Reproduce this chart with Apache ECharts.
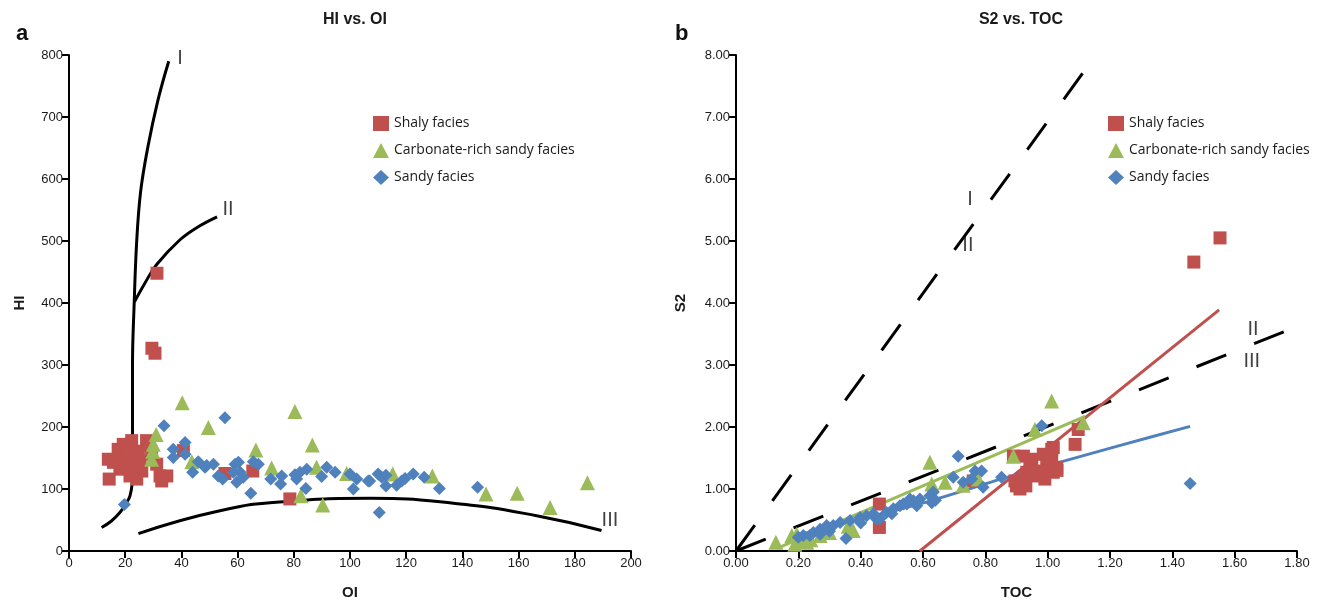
<!DOCTYPE html>
<html>
<head>
<meta charset="utf-8">
<script src="https://cdn.jsdelivr.net/npm/echarts@6/dist/echarts.min.js"></script>
<style>
  html, body { margin: 0; padding: 0; background: #fff; }
  #main { width: 1321px; height: 605px; }
</style>
</head>
<body>
<div id="main"></div>
<script>
// a: HI vs OI  [OI, HI]
var hiShaly = [[14.3,116],[16.4,145],[17.5,164],[19.3,172],[22.3,178],[27.6,178],[15.8,143],[18.7,153],[21.1,145],[24.7,161],
  [25.3,145],[22.3,135],[21.7,121],[25.9,129],[24.1,116],[29.4,156],[31.2,140],[32.4,121],[34.8,121],[33,113],[14,148],
  [19.9,148],[20.5,161],[18.1,132],[40.7,162],[55.5,125],[65.4,129],[78.6,84],[31.3,448],[29.5,327],[30.6,319],[28.5,170],[22,125]];
var hiCarb = [[40.3,239],[31,188],[30,172],[29.8,161],[29.4,148],[49.6,199],[80.4,225],[86.6,171],[66.5,163],[43.7,144],
  [72.1,134],[88.1,135],[98.8,125],[82.5,89],[90.3,74],[115.2,124],[129.3,121],[148.4,92],[159.5,93],[184.5,110],[171.2,70]];
var hiSandy = [[19.7,75],[33.8,202],[55.5,215],[37.1,164],[41.3,175],[37.1,151],[41.3,156],[46,144],[49,138],[51.4,140],
  [44,127],[48.4,135],[53.1,121],[54.7,116],[59.1,140],[60.3,143],[58.5,127],[60.9,127],[59.7,111],[62,119],[65.6,144],
  [67.4,140],[64.7,93],[71.8,116],[75.7,121],[75.3,108],[80.4,123],[82.2,127],[84.6,132],[84.3,101],[81,116],[91.7,135],
  [94.7,127],[89.9,120],[100,124],[102.4,116],[101.2,100],[106.5,113],[110,124],[107,113],[111.3,119],[112.8,122],
  [112.8,105],[116.6,106],[118.4,113],[119.6,117],[122.5,124],[126.4,119],[131.8,101],[145.4,103],[110.4,62]];
// kerogen type boundaries
var curveI = [[11.6,38],[15,48],[18.1,62],[20.5,78],[21.7,89],[22.5,110],[22.7,140],[22.6,200],[22.6,300],[23.2,400],
  [24.1,500],[25.5,580],[28,650],[31.7,728],[35.5,790]];
var curveII = [[23.3,402],[27,432],[31.2,462],[39.5,502],[46,523],[52.7,539]];
var curveIII = [[24.7,28],[53.7,65],[77.5,80],[107,85],[136.8,77],[166.4,57],[189.5,33]];
var hiTypeLabels = [[39.5,794,'I'],[56.6,551,'II'],[192.5,50,'III']];

// b: S2 vs TOC  [TOC, S2]
var s2Shaly = [[1.553,5.05],[1.469,4.66],[0.460,0.757],[0.460,0.38],[1.098,1.96],[1.088,1.72],[1.018,1.67],[1.013,1.48],
  [0.997,1.40],[1.029,1.35],[0.981,1.29],[1.018,1.27],[0.991,1.16],[0.949,1.48],[0.943,1.37],[0.933,1.27],[0.954,1.21],
  [0.917,1.16],[0.890,1.53],[0.922,1.53],[0.900,1.05],[0.895,1.13],[0.911,1.00],[0.761,1.13],[0.986,1.56],[1.013,1.64],
  [1.03,1.30],[0.93,1.05]];
var s2Carb = [[0.128,0.14],[0.179,0.25],[0.195,0.27],[0.211,0.17],[0.189,0.11],[0.227,0.14],[0.376,0.33],[0.622,1.43],
  [1.013,2.42],[1.114,2.07],[0.959,1.96],[0.890,1.53],[0.628,1.08],[0.671,1.11],[0.729,1.06],[0.777,1.16],[0.20,0.20],
  [0.215,0.22],[0.24,0.18],[0.30,0.30],[0.36,0.40],[0.27,0.25]];
var s2Sandy = [[0.216,0.25],[0.248,0.30],[0.270,0.35],[0.291,0.41],[0.312,0.41],[0.334,0.46],[0.366,0.49],[0.398,0.54],
  [0.419,0.57],[0.441,0.60],[0.483,0.62],[0.505,0.68],[0.526,0.73],[0.548,0.76],[0.569,0.81],[0.580,0.73],[0.462,0.52],
  [0.27,0.27],[0.237,0.25],[0.537,0.76],[0.558,0.84],[0.590,0.84],[0.622,0.89],[0.628,0.78],[0.633,0.95],[0.697,1.19],
  [0.729,1.11],[0.767,1.29],[0.788,1.29],[0.793,1.03],[0.756,1.16],[0.852,1.19],[1.457,1.09],[0.713,1.53],[0.981,2.02],
  [0.353,0.20],[0.20,0.22],[0.40,0.45],[0.45,0.52],[0.50,0.60],[0.64,0.82],[0.30,0.32]];
var trendShaly = [[0.59,0],[1.55,3.89]];
var trendCarb = [[0.13,0.04],[1.12,2.17]];
var trendSandy = [[0.20,0.26],[0.59,0.76],[0.85,1.16],[1.23,1.70],[1.457,2.01]];
var lineI_II = [[0,0],[1.139,7.89]];
var lineII_III = [[0,0],[1.8,3.62]];
var s2TypeLabels = [[0.751,5.67,'I'],[0.744,4.93,'II'],[1.659,3.57,'II'],[1.655,3.06,'III']];

var RED = '#c0504d', GREEN = '#9bbb59', BLUE = '#4f81bd';
var FONT = 'Liberation Sans';
var names = ['Shaly facies', 'Carbonate-rich sandy facies', 'Sandy facies'];

function axisBase(extra) {
  var a = {
    type: 'value',
    splitLine: { show: false },
    axisLine: { show: true, onZero: false, lineStyle: { color: '#000', width: 2 } },
    axisTick: { show: true, length: 7, lineStyle: { color: '#000', width: 2 } },
    axisLabel: { color: '#1a1a1a', fontSize: 13, fontFamily: FONT, margin: 6 },
    nameLocation: 'middle',
    nameTextStyle: { color: '#1a1a1a', fontSize: 15, fontWeight: 'bold', fontFamily: FONT }
  };
  for (var k in extra) a[k] = extra[k];
  return a;
}

function scatter(name, data, sym, size, color, idx) {
  return {
    name: name, type: 'scatter', xAxisIndex: idx, yAxisIndex: idx,
    symbol: sym, symbolSize: size, data: data,
    itemStyle: { color: color, opacity: 1 }, z: 3
  };
}

function curve(data, idx, color, dash, smooth, w) {
  return {
    type: 'line', xAxisIndex: idx, yAxisIndex: idx, data: data, showSymbol: false, symbol: 'none',
    smooth: smooth, silent: true, z: 2,
    lineStyle: { color: color, width: w || 3, type: dash || 'solid' }
  };
}

function typeLabels(data, idx) {
  return {
    type: 'scatter', xAxisIndex: idx, yAxisIndex: idx, symbolSize: 0, silent: true,
    data: data,
    label: { show: true, position: 'inside', formatter: function (p) { return p.data[2]; },
      color: '#111', fontSize: 20, fontFamily: 'Liberation Sans' }
  };
}

var chart = echarts.init(document.getElementById('main'));
var option = {
  backgroundColor: '#fff',
  animation: false,
  title: [
    { text: 'HI vs. OI', left: 350, top: 7, textAlign: 'center',
      textStyle: { fontSize: 16, fontWeight: 'bold', color: '#1a1a1a', fontFamily: FONT } },
    { text: 'S2 vs. TOC', left: 1016, top: 7, textAlign: 'center',
      textStyle: { fontSize: 16, fontWeight: 'bold', color: '#1a1a1a', fontFamily: FONT } },
    { text: 'a', left: 11, top: 18, textStyle: { fontSize: 22, fontWeight: 'bold', color: '#111', fontFamily: FONT } },
    { text: 'b', left: 670, top: 18, textStyle: { fontSize: 22, fontWeight: 'bold', color: '#111', fontFamily: FONT } }
  ],
  legend: [
    { data: names, orient: 'vertical', left: 368, top: 111, itemWidth: 16, itemHeight: 15, itemGap: 12,
      textStyle: { fontSize: 14, color: '#1a1a1a', fontFamily: 'Open Sans' } },
    { data: names, orient: 'vertical', left: 1103, top: 111, itemWidth: 16, itemHeight: 15, itemGap: 12,
      textStyle: { fontSize: 14, color: '#1a1a1a', fontFamily: 'Open Sans' } }
  ],
  grid: [
    { left: 69, right: 690, top: 55, bottom: 53 },
    { left: 736, right: 24, top: 55, bottom: 53 }
  ],
  xAxis: [
    axisBase({ gridIndex: 0, min: 0, max: 200, interval: 20, name: 'OI', nameGap: 34 }),
    axisBase({ gridIndex: 1, min: 0, max: 1.8, interval: 0.2, name: 'TOC', nameGap: 34,
      axisLabel: { color: '#1a1a1a', fontSize: 13, fontFamily: FONT, margin: 6,
        formatter: function (v) { return v.toFixed(2); } } })
  ],
  yAxis: [
    axisBase({ gridIndex: 0, min: 0, max: 800, interval: 100, name: 'HI', nameGap: 42 }),
    axisBase({ gridIndex: 1, min: 0, max: 8, interval: 1, name: 'S2', nameGap: 48,
      axisLabel: { color: '#1a1a1a', fontSize: 13, fontFamily: FONT, margin: 6,
        formatter: function (v) { return v.toFixed(2); } } })
  ],
  series: [
    curve(curveI, 0, '#000', null, 0.4),
    curve(curveII, 0, '#000', null, 0.4),
    curve(curveIII, 0, '#000', null, 0.5),
    typeLabels(hiTypeLabels, 0),
    scatter(names[0], hiShaly, 'rect', 13, RED, 0),
    scatter(names[1], hiCarb, 'triangle', 15, GREEN, 0),
    scatter(names[2], hiSandy, 'diamond', 13, BLUE, 0),

    curve(lineI_II, 1, '#000', [32, 30], false),
    curve(lineII_III, 1, '#000', [32, 30], false),
    typeLabels(s2TypeLabels, 1),
    scatter(names[0], s2Shaly, 'rect', 13, RED, 1),
    scatter(names[1], s2Carb, 'triangle', 15, GREEN, 1),
    scatter(names[2], s2Sandy, 'diamond', 13, BLUE, 1),
    curve(trendShaly, 1, RED, null, false, 3),
    curve(trendCarb, 1, GREEN, null, false, 3),
    curve(trendSandy, 1, BLUE, null, 0.3, 3)
  ]
};
chart.setOption(option);
</script>
</body>
</html>
